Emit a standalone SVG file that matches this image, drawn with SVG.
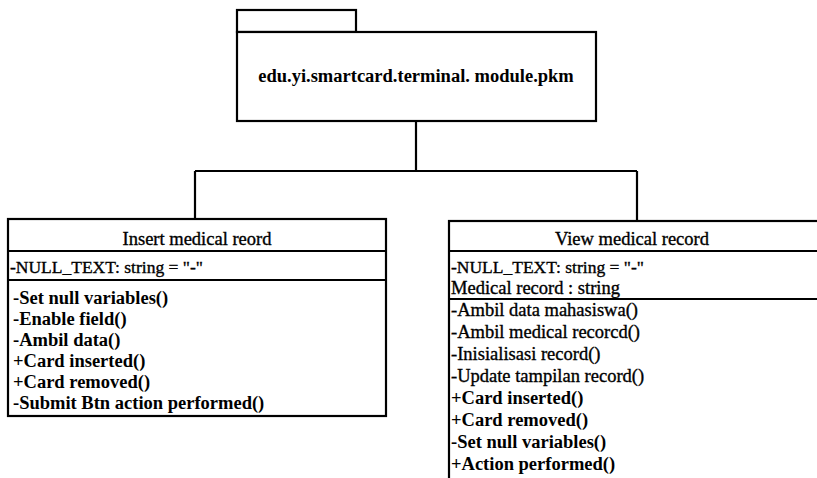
<svg xmlns="http://www.w3.org/2000/svg" width="817" height="478" viewBox="0 0 817 478">
<style>
.box{fill:#fff;stroke:#000;stroke-width:2.2}
.ln{fill:none;stroke:#000;stroke-width:2.2}
text{font-family:'Liberation Serif','Times New Roman','DejaVu Serif',serif;font-size:18.5px;fill:#000;stroke:#000;stroke-width:0.35}
.b{font-weight:bold;stroke-width:0}
.n{font-size:17.5px}
.c{text-anchor:middle}
</style>
<g id="connectors">
<path class="ln" d="M416,121 V171 M195,171 H637 M195,171 V219 M637,171 V221"/>
</g>
<g id="package">
<rect class="box" x="237" y="10" width="119" height="22"/>
<rect class="box" x="237" y="32" width="359" height="89"/>
<text class="c b" x="416" y="82">edu.yi.smartcard.terminal. module.pkm</text>
</g>
<g id="insert-medical-record">
<rect class="box" x="8" y="219" width="378" height="197"/>
<path class="ln" d="M8,251 H386 M8,280 H386"/>
<text class="c" x="197" y="245">Insert medical reord</text>
<text class="n" x="10" y="273">-NULL_TEXT: string = "-"</text>
<text class="b" x="13" y="304">-Set null variables()</text>
<text class="b" x="13" y="325">-Enable field()</text>
<text class="b" x="13" y="346">-Ambil data()</text>
<text class="b" x="13" y="367">+Card inserted()</text>
<text class="b" x="13" y="388">+Card removed()</text>
<text class="b" x="13" y="409">-Submit Btn action performed()</text>
</g>
<g id="view-medical-record">
<rect class="box" x="449" y="221" width="372" height="262"/>
<path class="ln" d="M449,251 H821 M449,299 H821"/>
<text class="c" x="632" y="245">View medical record</text>
<text class="n" x="451" y="273">-NULL_TEXT: string = "-"</text>
<text x="451" y="294">Medical record : string</text>
<text x="451" y="316">-Ambil data mahasiswa()</text>
<text x="451" y="338">-Ambil medical recorcd()</text>
<text x="451" y="360">-Inisialisasi record()</text>
<text x="451" y="382">-Update tampilan record()</text>
<text class="b" x="451" y="404">+Card inserted()</text>
<text class="b" x="451" y="426">+Card removed()</text>
<text class="b" x="451" y="448">-Set null variables()</text>
<text class="b" x="451" y="470">+Action performed()</text>
</g>
</svg>
